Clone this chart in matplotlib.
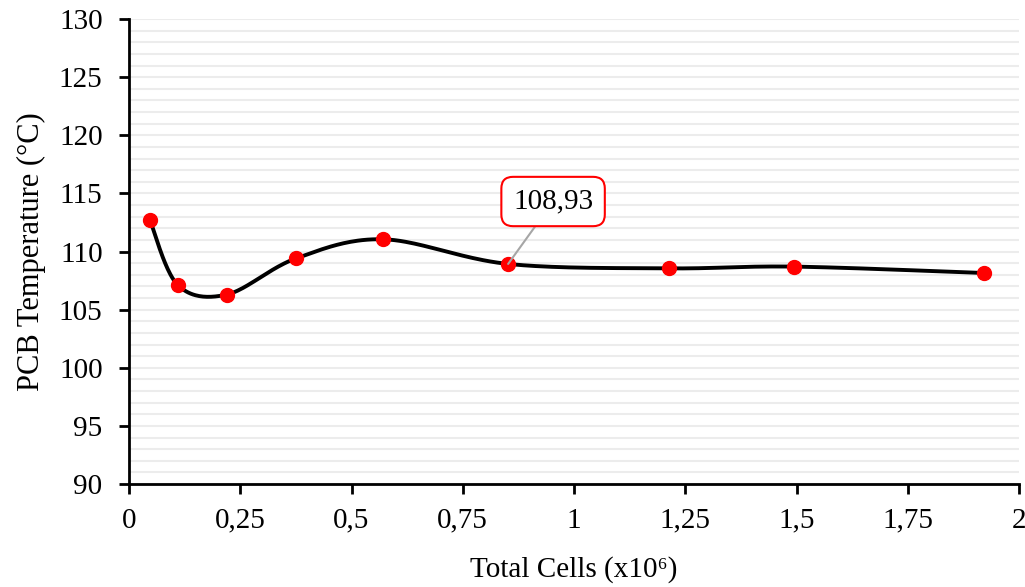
import numpy as np
import matplotlib.pyplot as plt
from matplotlib.ticker import MultipleLocator, FuncFormatter

plt.rcParams['font.family'] = ['Liberation Serif', 'DejaVu Serif']

# data
cells = [0.047, 0.110, 0.220, 0.375, 0.571, 0.852, 1.213, 1.494, 1.921]
temp = [112.7, 107.1, 106.3, 109.4, 111.05, 108.93, 108.55, 108.7, 108.15]
x_min, x_max = 0, 2
y_min, y_max = 90, 130


def excel_smooth(xs, ys, n=40):
    # Catmull-Rom style Bezier, computed in axis-normalised space like Excel
    px = (np.array(xs) - x_min) / (x_max - x_min) * 890
    py = (np.array(ys) - y_min) / (y_max - y_min) * 465
    pts = np.column_stack([px, py])
    out = []
    for i in range(len(pts) - 1):
        p0 = pts[i - 1] if i > 0 else pts[i]
        p1, p2 = pts[i], pts[i + 1]
        p3 = pts[i + 2] if i + 2 < len(pts) else pts[i + 1]
        c1 = p1 + (p2 - p0) / 6
        c2 = p2 - (p3 - p1) / 6
        t = np.linspace(0, 1, n)[:, None]
        seg = (1 - t) ** 3 * p1 + 3 * (1 - t) ** 2 * t * c1 + 3 * (1 - t) * t ** 2 * c2 + t ** 3 * p2
        out.append(seg)
    out = np.vstack(out)
    return out[:, 0] / 890 * (x_max - x_min) + x_min, out[:, 1] / 465 * (y_max - y_min) + y_min


fig = plt.figure(figsize=(10.25, 5.87), dpi=100)
ax = fig.add_axes([129 / 1025, 103 / 587, 890 / 1025, 465 / 587])

sx, sy = excel_smooth(cells, temp)
ax.plot(sx, sy, color='black', lw=2.8, zorder=3)
ax.plot(cells, temp, 'o', color='#ff0000', ms=10, zorder=4)

ax.set_xlim(x_min, x_max)
ax.set_ylim(y_min, y_max)
ax.xaxis.set_major_locator(MultipleLocator(0.25))
ax.yaxis.set_major_locator(MultipleLocator(5))
ax.yaxis.set_minor_locator(MultipleLocator(1))
ax.xaxis.set_major_formatter(FuncFormatter(lambda v, p: ('%g' % v).replace('.', ',')))
ax.grid(which='both', axis='y', color='#ececec', lw=1.5, zorder=0)
ax.tick_params(which='major', direction='out', length=7, width=2, labelsize=21)
ax.tick_params(axis='x', pad=10)
ax.tick_params(axis='y', pad=12)
ax.tick_params(which='minor', length=0)
for s in ['top', 'right']:
    ax.spines[s].set_visible(False)
for s in ['left', 'bottom']:
    ax.spines[s].set_linewidth(2)

ax.set_xlabel('Total Cells (x10\u2076)', fontsize=21, labelpad=16)
ax.set_ylabel('PCB Temperature (°C)', fontsize=22, labelpad=9)

# callout for 108,93
ax.annotate('108,93', xy=(cells[5], temp[5]), xytext=(0.953, 114.3),
            fontsize=21, ha='center', va='center', zorder=5,
            bbox=dict(boxstyle='round,pad=0.4,rounding_size=0.4', fc='white', ec='#ff0000', lw=1.5),
            arrowprops=dict(arrowstyle='-', color='#a6a6a6', lw=1.5, shrinkA=0, shrinkB=0))

plt.savefig('out.png', dpi=100)
